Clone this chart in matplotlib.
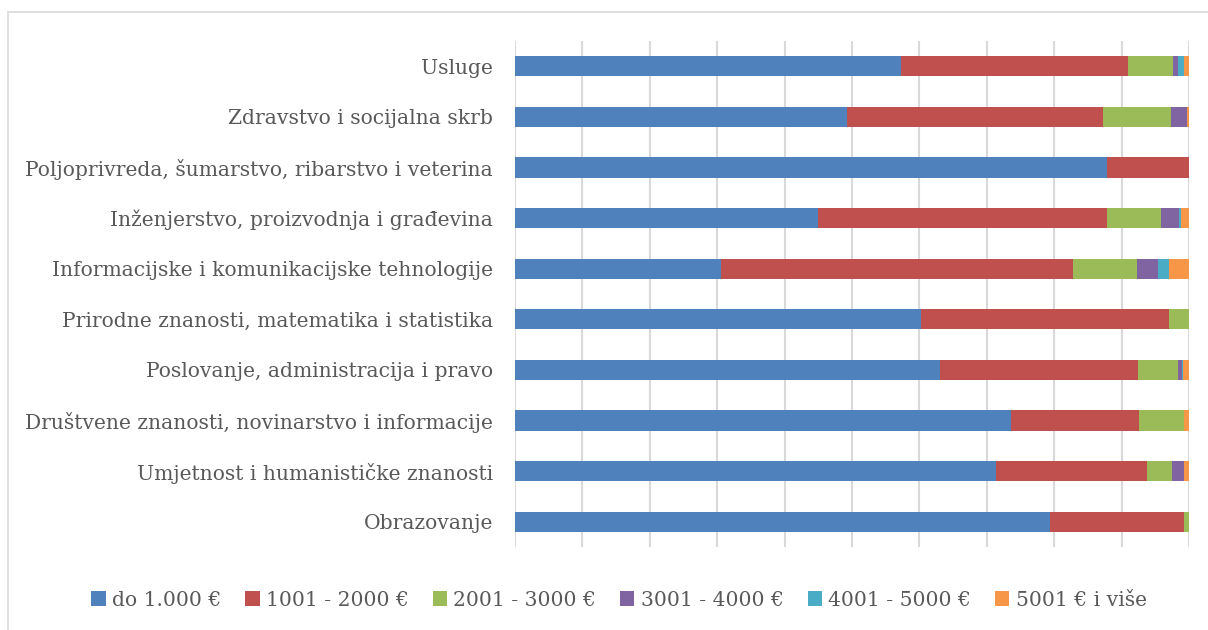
import matplotlib
matplotlib.use('Agg')
import matplotlib.pyplot as plt
from matplotlib.patches import Rectangle
import numpy as np

# categories, bottom to top
categories = [
    "Obrazovanje",
    "Umjetnost i humanističke znanosti",
    "Društvene znanosti, novinarstvo i informacije",
    "Poslovanje, administracija i pravo",
    "Prirodne znanosti, matematika i statistika",
    "Informacijske i komunikacijske tehnologije",
    "Inženjerstvo, proizvodnja i građevina",
    "Poljoprivreda, šumarstvo, ribarstvo i veterina",
    "Zdravstvo i socijalna skrb",
    "Usluge",
]

series_names = ["do 1.000 €", "1001 - 2000 €", "2001 - 3000 €",
                "3001 - 4000 €", "4001 - 5000 €", "5001 € i više"]

# shares in %, same order as categories
do_1000   = [79.4, 71.3, 73.6, 63.0, 60.3, 30.5, 44.9, 87.9, 49.2, 57.3]
r1001_2000 = [19.8, 22.5, 19.0, 29.4, 36.8, 52.3, 43.0, 12.1, 38.1, 33.7]
r2001_3000 = [0.8, 3.7, 6.6, 5.9, 2.9, 9.5, 8.0, 0.0, 10.1, 6.6]
r3001_4000 = [0.0, 1.7, 0.0, 0.6, 0.0, 3.1, 2.6, 0.0, 2.3, 0.8]
r4001_5000 = [0.0, 0.0, 0.0, 0.25, 0.0, 1.6, 0.3, 0.0, 0.0, 0.8]
r5001_plus = [0.0, 0.85, 0.8, 0.85, 0.0, 3.0, 1.2, 0.0, 0.3, 0.8]

series = [do_1000, r1001_2000, r2001_3000, r3001_4000, r4001_5000, r5001_plus]
colors = ['#4F81BD', '#C0504D', '#9BBB59', '#8064A2', '#4BACC6', '#F79646']

text_color = '#595959'
plt.rcParams['font.family'] = ['DejaVu Serif']

fig = plt.figure(figsize=(12.08, 6.30), dpi=100)
ax = fig.add_axes([515/1208, 1-547/630, (1189-515)/1208, (547-41)/630])

y = np.arange(len(categories))
left = np.zeros(len(categories))
for vals, name, c in zip(series, series_names, colors):
    vals = np.array(vals)
    ax.barh(y, vals, left=left, height=0.4, color=c, label=name, linewidth=0, zorder=3)
    left += vals

ax.set_xlim(0, 100)
ax.set_ylim(-0.5, len(categories) - 0.5)
ax.set_xticks(np.arange(0, 101, 10))
ax.set_xticklabels([])
ax.set_yticks(y)
ax.set_yticklabels(categories, fontsize=14.6, color=text_color)
ax.tick_params(axis='both', length=0, pad=16)
ax.grid(True, axis='x', color='#d9d9d9', linewidth=1.5, zorder=0)
for s in ax.spines.values():
    s.set_visible(False)

fig.legend(loc='center', bbox_to_anchor=(619/1208, 1-600/630), ncol=6, frameon=False,
           fontsize=14.6, handlelength=0.7, handleheight=0.7, handletextpad=0.3,
           columnspacing=1.2, labelcolor=text_color)

# outer chart border
fig.patches.append(Rectangle((8/1208, -0.1), 1.2, 1-12/630 + 0.1, transform=fig.transFigure,
                             fill=False, edgecolor='#d9d9d9', linewidth=1.2))

fig.savefig('out.png', dpi=100)
